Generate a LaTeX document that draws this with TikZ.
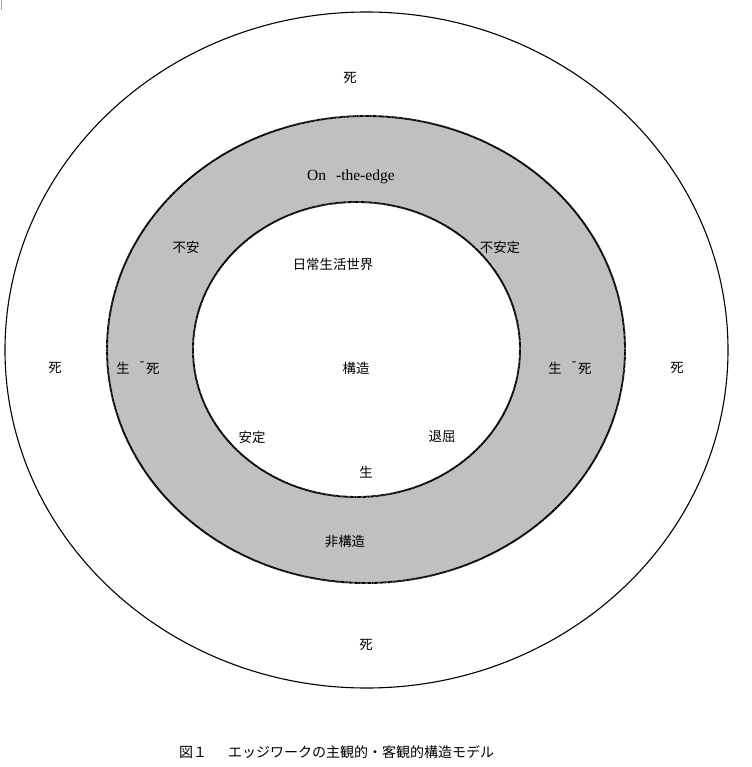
\documentclass[tikz,border=0pt]{standalone}
\usepackage{fontspec}
\setmainfont{Liberation Serif}
\newfontfamily\jp{Noto Sans CJK JP}
\newcommand{\lifedeath}{生\hspace{10bp}\smash{\raisebox{8bp}{\rmfamily -}}\hspace{2bp}死}
\begin{document}
\begin{tikzpicture}[x=1bp,y=-1bp,
  lbl/.style={inner sep=0pt,font=\jp\fontsize{13.4bp}{15bp}\selectfont},
  ring/.style={line width=1.9bp,dash pattern=on 0.9bp off 0.4bp},
  edgeline/.style={line width=1.1bp}]
\useasboundingbox (0,0) rectangle (752,767);
\fill[white] (0,0) rectangle (752,767);
% corner mark
\draw[gray!70,line width=0.8bp] (1,0) -- (1,10);
% outer
\draw[edgeline] (366.5,350) ellipse [x radius=361.5bp, y radius=338bp];
% gray ring
\filldraw[fill={rgb,255:red,192;green,192;blue,192},ring] (366,349.5) ellipse [x radius=259bp, y radius=233.5bp];
% inner white
\filldraw[fill=white,ring] (356.5,349.5) ellipse [x radius=163.5bp, y radius=147.5bp];
% labels
\node[lbl] (dtop) at (350,78) {死};
\node[lbl,font=\fontsize{15.5bp}{17bp}\selectfont,anchor=base west] (edge) at (307,180) {On\hspace{10bp}-the-edge};
\node[lbl] (life) at (333,264) {日常生活世界};
\node[lbl] (anx) at (186,247) {不安};
\node[lbl] (unst) at (500,247) {不安定};
\node[lbl] (dleft) at (55,368) {死};
\node[lbl] (ldl) at (138,368) {\lifedeath};
\node[lbl] (struct) at (356,368) {構造};
\node[lbl] (ldr) at (570,368) {\lifedeath};
\node[lbl] (dright) at (677,368) {死};
\node[lbl] (stab) at (252,437) {安定};
\node[lbl] (bore) at (442,437) {退屈};
\node[lbl] (life2) at (366,472) {生};
\node[lbl] (nonst) at (345,541) {非構造};
\node[lbl] (dbot) at (366,645) {死};
\node[lbl,font=\jp\fontsize{14bp}{16bp}\selectfont,anchor=west] (cap) at (179,752) {図１\hspace{21bp}エッジワークの主観的・客観的構造モデル};
\end{tikzpicture}
\end{document}
